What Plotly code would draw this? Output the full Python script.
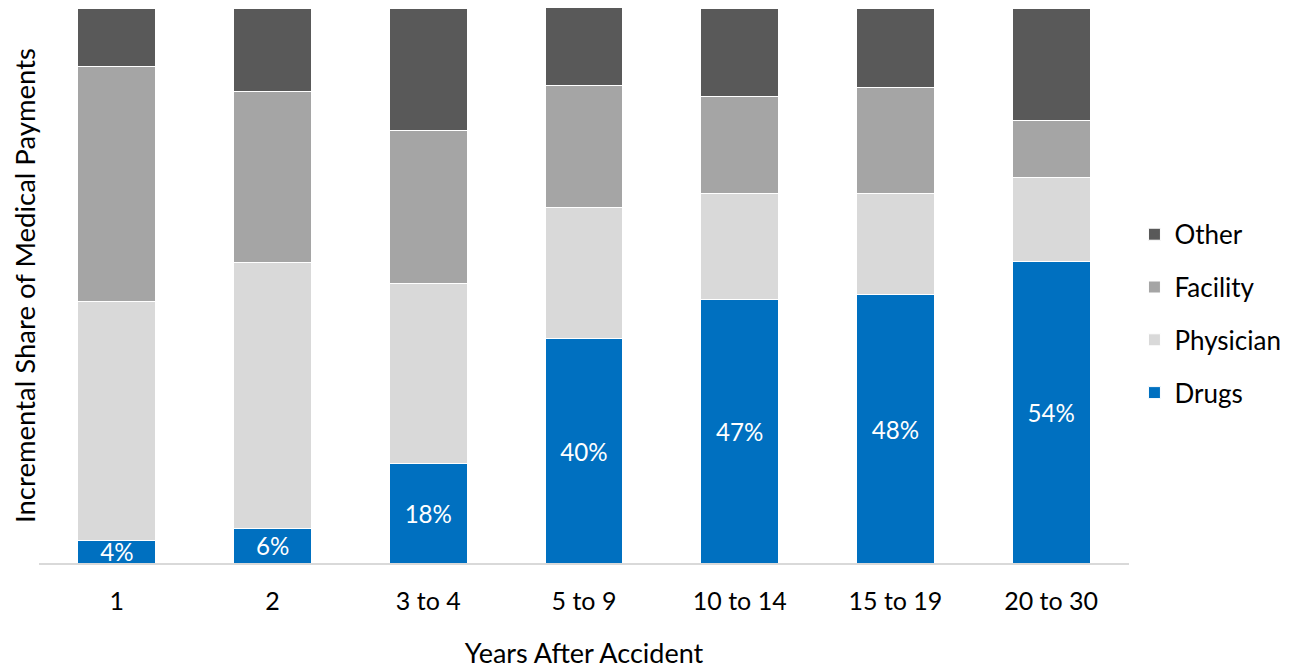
import plotly.graph_objects as go

categories = ["1", "2", "3 to 4", "5 to 9", "10 to 14", "15 to 19", "20 to 30"]
drugs = [4.1, 6.3, 18.0, 40.4, 47.4, 48.3, 54.4]
physician = [43.1, 47.9, 32.3, 23.6, 19.1, 18.2, 15.1]
facility = [42.2, 30.8, 27.7, 22.0, 17.5, 19.1, 10.3]
other = [10.6, 15.0, 22.0, 14.1, 16.0, 14.4, 20.2]

FONT = "Lato"
fig = go.Figure()
series = [
    ("Drugs", drugs, "#0070C0", 4),
    ("Physician", physician, "#D9D9D9", 3),
    ("Facility", facility, "#A5A5A5", 2),
    ("Other", other, "#595959", 1),
]
for name, vals, col, rank in series:
    kw = {}
    if name == "Drugs":
        kw = dict(texttemplate="%{y:.0f}%", textposition="inside",
                  insidetextanchor="middle",
                  textfont=dict(color="white", size=25, family=FONT))
    fig.add_trace(go.Bar(
        name=name, x=categories, y=vals,
        marker=dict(color=col, line=dict(color="white", width=1)),
        legendgroup=name, legendrank=rank, **kw))

fig.update_layout(
    barmode="stack", bargap=0.5,
    width=1287, height=661,
    margin=dict(l=31, r=166, t=0, b=106),
    plot_bgcolor="white", paper_bgcolor="white",
    font=dict(family=FONT, size=22, color="#000000"),
    uniformtext=dict(minsize=20, mode="show"),
    showlegend=True,
    legend=dict(traceorder="grouped", x=1.005, xanchor="left", y=0.449, yanchor="middle",
                font=dict(size=26, family=FONT), tracegroupgap=16, itemwidth=30),
    xaxis=dict(showline=True, linecolor="#D9D9D9", linewidth=2, ticks="",
               ticklabelstandoff=15, tickfont=dict(size=25),
               title=dict(text="Years After Accident", standoff=30, font=dict(size=27))),
    yaxis=dict(range=[0, 100], showticklabels=False, showgrid=False, zeroline=False,
               showline=False,
               title=dict(text="Incremental Share of Medical Payments", standoff=1,
                          font=dict(size=27.5))),
)
fig.write_html("out.html")
